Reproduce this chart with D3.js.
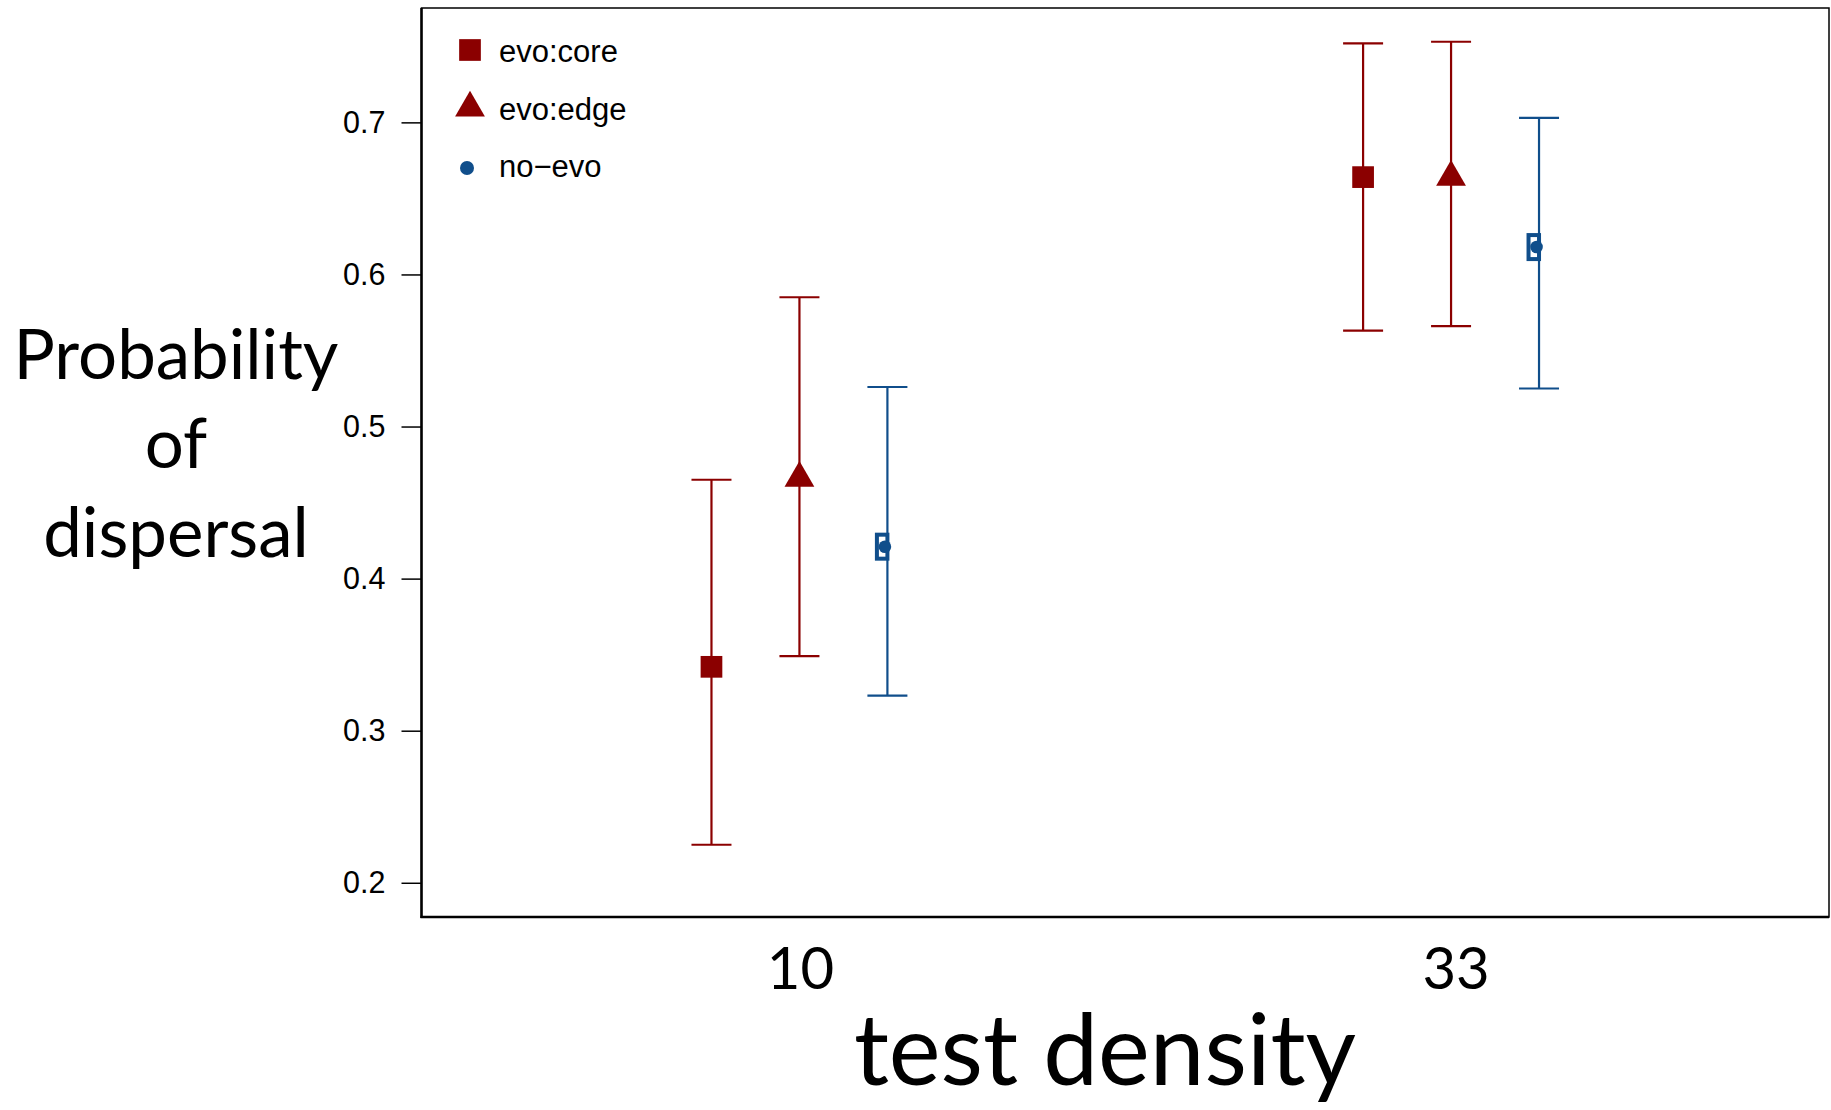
<!DOCTYPE html>
<html>
<head>
<meta charset="utf-8">
<script src="https://cdn.jsdelivr.net/npm/d3@7"></script>
<style>
  html, body { margin: 0; padding: 0; background: #fff; }
  svg { display: block; }
</style>
</head>
<body>
<svg id="chart" width="1831" height="1110"></svg>
<script>
// Test densities (x groups) and the three treatments
const densities = ["10", "33"];
const treatments = ["evo:core", "evo:edge", "no-evo"];

// Estimated dispersal probability per treatment, one value per density
const coreEst  = [0.342, 0.664];
const edgeEst  = [0.466, 0.664];
const noevoEst = [0.421, 0.618];

// Lower / upper confidence limits
const coreLo  = [0.225, 0.563];
const coreHi  = [0.465, 0.752];
const edgeLo  = [0.349, 0.566];
const edgeHi  = [0.585, 0.753];
const noevoLo = [0.323, 0.525];
const noevoHi = [0.526, 0.703];

const yTicks = [0.2, 0.3, 0.4, 0.5, 0.6, 0.7];

const DARKRED = "#8B0000";
const BLUE = "#104E8B";

const series = [
  { name: treatments[0], est: coreEst,  lo: coreLo,  hi: coreHi,  color: DARKRED, shape: "square",   offset: -0.135 },
  { name: treatments[1], est: edgeEst,  lo: edgeLo,  hi: edgeHi,  color: DARKRED, shape: "triangle", offset: 0 },
  { name: treatments[2], est: noevoEst, lo: noevoLo, hi: noevoHi, color: BLUE,    shape: "dotbox",   offset: 0.135 }
];

const svg = d3.select("#chart");

const plot = { left: 421.5, right: 1829, top: 8, bottom: 917 };

const x = d3.scaleLinear().domain([0.42, 2.58]).range([plot.left, plot.right]);
const y = d3.scaleLinear().domain([0.1775, 0.7752]).range([plot.bottom, plot.top]);

const calibriLike = "Lato, 'Open Sans', sans-serif";
const arialLike = "'Liberation Sans', Arial, sans-serif";

// Y axis: ticks on the left with labels
const yAxis = d3.axisLeft(y).tickValues(yTicks).tickSize(20).tickPadding(16)
  .tickFormat(d3.format(".1f"));
const gy = svg.append("g").attr("transform", `translate(${plot.left},0)`).call(yAxis);
gy.select(".domain").remove();
gy.selectAll(".tick line").attr("stroke", "#000").attr("stroke-width", 1.5);
gy.selectAll(".tick text")
  .attr("font-family", arialLike)
  .attr("font-size", 30.5)
  .attr("fill", "#000");

// X axis: category labels only
const gx = svg.append("g");
gx.selectAll("text").data(densities).join("text")
  .attr("x", (d, i) => x(i + 1) + (i === 1 ? 5 : 1))
  .attr("y", 989)
  .attr("text-anchor", "middle")
  .attr("font-family", calibriLike)
  .attr("font-size", 58)
  .attr("fill", "#000")
  .text(d => d);

// Plot frame
svg.append("rect")
  .attr("x", plot.left).attr("y", plot.top)
  .attr("width", plot.right - plot.left).attr("height", plot.bottom - plot.top)
  .attr("fill", "none").attr("stroke", "#000").attr("stroke-width", 1.5);
svg.append("line")
  .attr("x1", plot.left).attr("x2", plot.left)
  .attr("y1", plot.top).attr("y2", plot.bottom + 1)
  .attr("stroke", "#000").attr("stroke-width", 2.5);
svg.append("line")
  .attr("x1", plot.left - 1).attr("x2", plot.right)
  .attr("y1", plot.bottom).attr("y2", plot.bottom)
  .attr("stroke", "#000").attr("stroke-width", 2.5);

// Error bars and point markers
const capHalf = 20;
function drawMarker(g, shape, cx, cy, color) {
  if (shape === "square") {
    const s = 21.7;
    g.append("rect").attr("x", cx - s / 2).attr("y", cy - s / 2)
      .attr("width", s).attr("height", s).attr("fill", color);
  } else if (shape === "triangle") {
    const r = 17.2;
    const pts = [[cx, cy - r], [cx + r * Math.sqrt(3) / 2, cy + r / 2], [cx - r * Math.sqrt(3) / 2, cy + r / 2]];
    g.append("path").attr("d", "M" + pts.map(p => p.join(",")).join("L") + "Z").attr("fill", color);
  } else if (shape === "dot") {
    g.append("circle").attr("cx", cx).attr("cy", cy).attr("r", 7).attr("fill", color);
  } else if (shape === "dotbox") {
    g.append("rect").attr("x", cx - 10.5).attr("y", cy - 12)
      .attr("width", 10.5).attr("height", 24)
      .attr("fill", "#fff").attr("stroke", color).attr("stroke-width", 4);
    g.append("circle").attr("cx", cx - 2.5).attr("cy", cy).attr("r", 6.3).attr("fill", color);
  }
}

series.forEach(s => {
  const g = svg.append("g");
  densities.forEach((d, i) => {
    const cx = x(i + 1 + s.offset);
    g.append("line").attr("x1", cx).attr("x2", cx)
      .attr("y1", y(s.lo[i])).attr("y2", y(s.hi[i]))
      .attr("stroke", s.color).attr("stroke-width", 2.2);
    [s.lo[i], s.hi[i]].forEach(v => {
      g.append("line").attr("x1", cx - capHalf).attr("x2", cx + capHalf)
        .attr("y1", y(v)).attr("y2", y(v))
        .attr("stroke", s.color).attr("stroke-width", 2.2);
    });
    drawMarker(g, s.shape, cx, y(s.est[i]), s.color);
  });
});

// Legend
const legend = svg.append("g");
const legendShapes = ["square", "triangle", "dot"];
const legendMarkerY = [50, 108, 168];
const legendTextY = [62, 120, 177];
series.forEach((s, i) => {
  drawMarker(legend, legendShapes[i], i === 2 ? 467 : 470, legendMarkerY[i], s.color);
  legend.append("text")
    .attr("x", 499).attr("y", legendTextY[i])
    .attr("font-family", arialLike).attr("font-size", 31).attr("fill", "#000")
    .text(s.name.replace("-", "\u2212"));
});

// Axis titles
const yTitle = svg.append("text")
  .attr("text-anchor", "middle")
  .attr("font-family", calibriLike)
  .attr("font-size", 69)
  .attr("fill", "#000");
["Probability", "of", "dispersal"].forEach((line, i) => {
  yTitle.append("tspan").attr("x", 176).attr("y", 379 + i * 89).text(line);
});

svg.append("text")
  .attr("x", 1105).attr("y", 1085)
  .attr("text-anchor", "middle")
  .attr("font-family", calibriLike)
  .attr("font-size", 98)
  .attr("fill", "#000")
  .text("test density");
</script>
</body>
</html>
